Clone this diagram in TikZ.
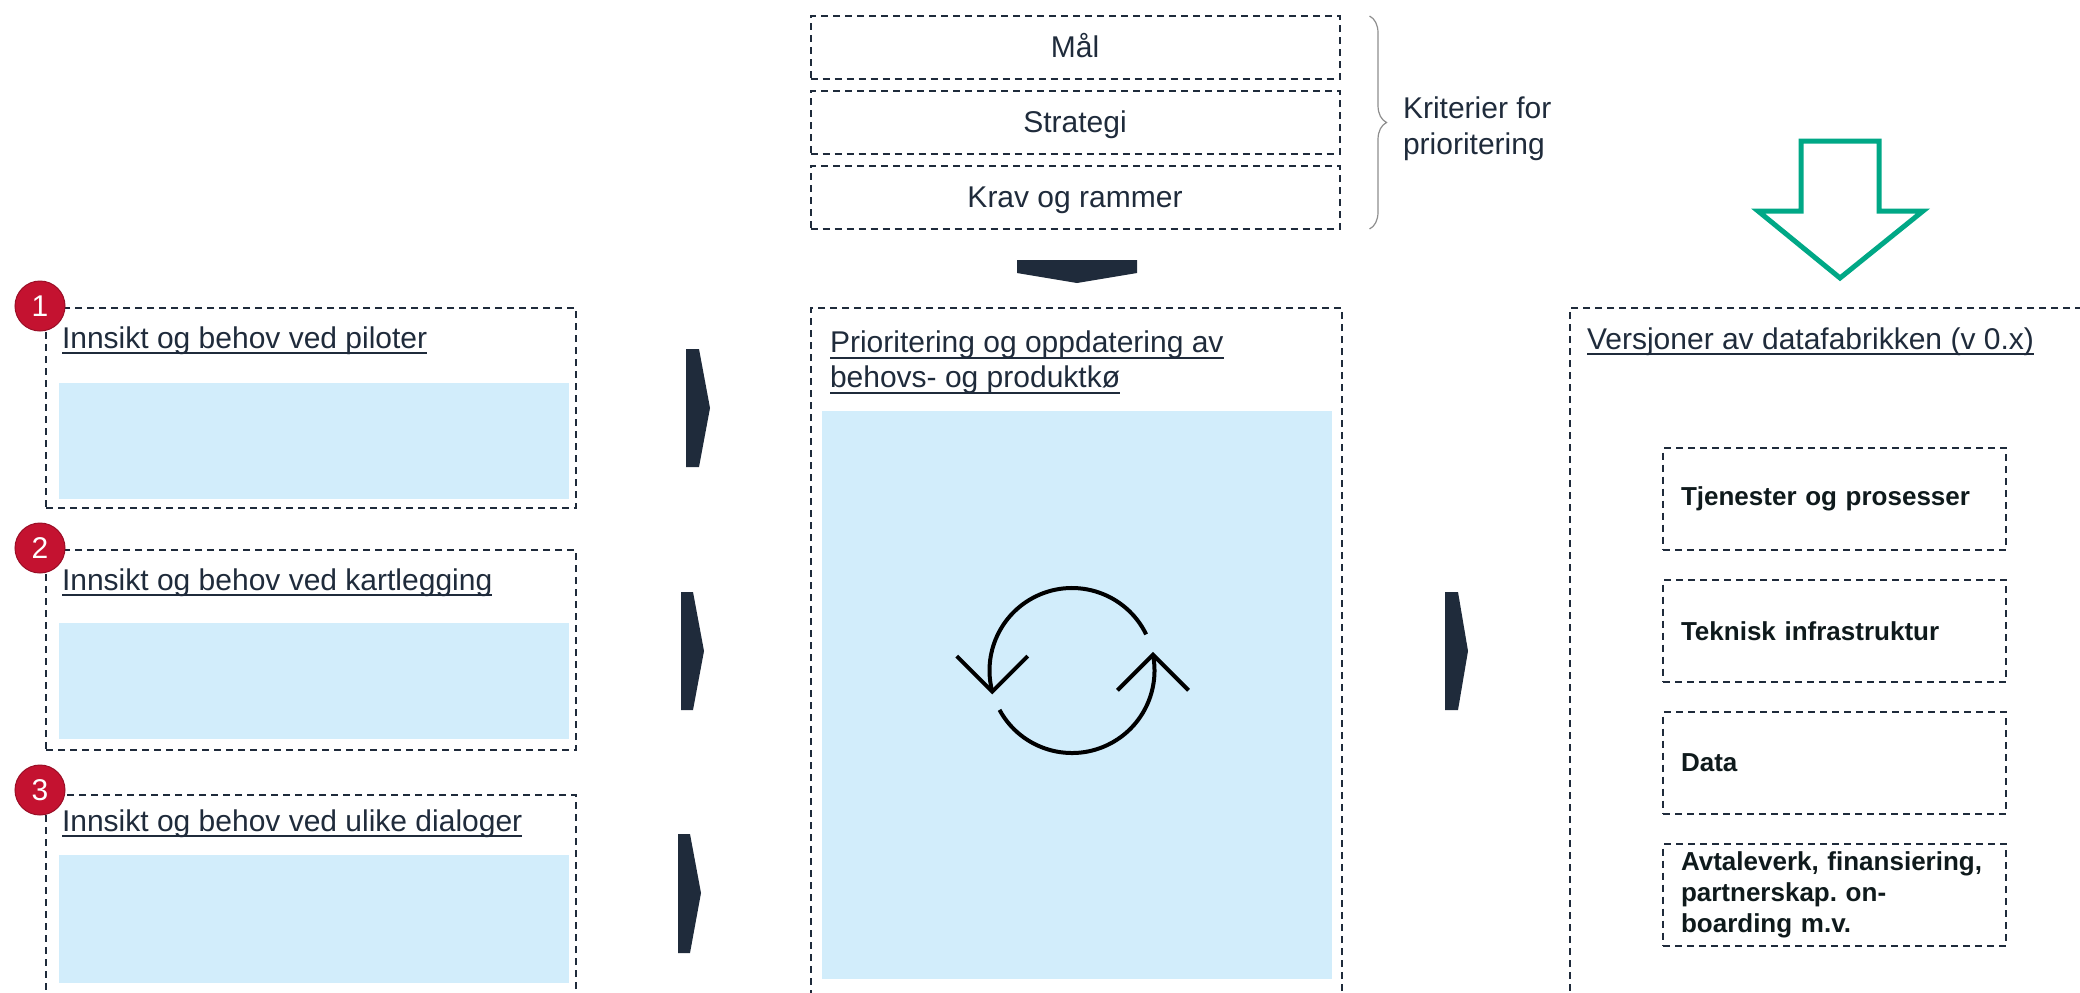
\documentclass[tikz,border=0pt]{standalone}
\usepackage{fontspec}
\setmainfont{Liberation Sans}
\usetikzlibrary{positioning, decorations.pathreplacing}
\definecolor{ink}{HTML}{1F2B3B}
\definecolor{boldink}{HTML}{0F1A1C}
\definecolor{paleblue}{HTML}{D2EDFB}
\definecolor{badgered}{HTML}{C41230}
\definecolor{badgerim}{HTML}{9A0E26}
\definecolor{arrowgreen}{HTML}{00A886}
\definecolor{bracegrey}{HTML}{8E8E8E}
\frenchspacing
\newcommand{\ulin}[1]{\setbox0\hbox{#1}\rlap{\rule[-3pt]{\wd0}{1pt}}\box0}
\tikzset{
	every node/.append style={
		inner sep=0pt,
		outer sep=0pt,
	},
	dashline/.style={
		draw=ink,
		line width=1pt,
		dash pattern=on 3.5pt off 2.5pt,
	},
	panel/.style={
		dashline,
		anchor=north west,
		minimum width=265pt,
		minimum height=100pt,
	},
	fillarea/.style={
		fill=paleblue,
		anchor=north west,
		minimum width=255pt,
	},
	heading/.style={
		text=ink,
		font=\fontsize{15pt}{17.5pt}\selectfont,
	},
	crit/.style={
		dashline,
		heading,
		minimum width=264.5pt,
		minimum height=31.5pt,
		text height=12pt,
		text depth=2pt,
	},
	badge/.style={
		circle,
		fill=badgered,
		draw=badgerim,
		line width=0.5pt,
		minimum size=25pt,
		text=white,
		font=\fontsize{15pt}{18pt}\selectfont,
	},
	partbox/.style={
		dashline,
		text width=153.5pt,
		inner xsep=9pt,
		minimum height=50.75pt,
		align=left,
		text=boldink,
		font=\bfseries\fontsize{13pt}{15.5pt}\selectfont,
	},
	chevron/.style={fill=ink},
	kbrace/.style={
		draw=bracegrey,
		line width=0.6pt,
		decorate,
		decoration={brace, amplitude=8.5pt},
	},
	bigarrow/.style={draw=arrowgreen, line width=2.5pt, miter limit=10},
	loopline/.style={draw=black, line width=2pt},
}

\begin{document}
\begin{tikzpicture}[x=0.5pt, y=-0.5pt]
\useasboundingbox (0,0) rectangle (2080,992);
\clip (0,0) rectangle (2080,992);

% criteria
\node[crit] (maal) at (1075,47.5) {Mål};
\node[crit, below=6pt of maal] (strat) {Strategi};
\node[crit, below=6pt of strat] (krav) {Krav og rammer};
\draw[kbrace] ([xshift=15pt]maal.north east) -- ([xshift=15pt]krav.south east);
\node[heading, anchor=north west, align=left, font=\fontsize{15pt}{18pt}\selectfont] (kriterier) at (1403,97)
	{Kriterier for\\prioritering};
\fill[chevron] (1017,260) -- (1137,260) -- (1137,273) -- (1077,283) -- (1017,273) -- cycle;

% input panels
\node[panel] (pilot) at (46,308) {};
\node[fillarea, minimum height=58pt] (pilotfill) at (59,383) {};
\node[heading, anchor=base west] (pilothead) at (62,348) {\ulin{Innsikt og behov ved piloter}};
\node[badge] (b1) at (40,306) {1};

\node[panel] (kart) at (46,550) {};
\node[fillarea, minimum height=58pt] (kartfill) at (59,623) {};
\node[heading, anchor=base west] (karthead) at (62,590) {\ulin{Innsikt og behov ved kartlegging}};
\node[badge] (b2) at (40,548) {2};

\node[panel, minimum height=150pt] (dialog) at (46,795) {};
\node[fillarea, minimum height=64pt] (dialogfill) at (59,855) {};
\node[heading, anchor=base west] (dialoghead) at (62,831) {\ulin{Innsikt og behov ved ulike dialoger}};
\node[badge] (b3) at (40,790) {3};

\foreach \xa/\xb/\xc/\ya/\yb/\yc in {686/699/710/349/408/467, 681/693/704/592/651/710,
		678/690/701/834/893/953, 1445/1458/1468/592/651/710}
	\fill[chevron] (\xa,\ya) -- (\xb,\ya) -- (\xc,\yb) -- (\xb,\yc) -- (\xa,\yc) -- cycle;

% prioritering
\node[panel, minimum width=265.5pt, minimum height=400pt] (prio) at (811,308) {};
\node[fillarea, minimum height=284pt] (priofill) at (822,411) {};
\node[heading, anchor=north west, align=left] (priohead) at (830,331)
	{\ulin{Prioritering og oppdatering av}\\\ulin{behovs- og produktkø}};

\coordinate (loop) at (1072,670.5);
\draw[loopline] ([shift={(26:41.25pt)}]loop) arc (26:194.8:41.25pt) coordinate (tipl);
\draw[loopline] (tipl) ++(-35.5,-35.5) -- (tipl) -- ++(35.5,-35.5);
\draw[loopline] ([shift={(208.5:41.25pt)}]loop) arc (208.5:371:41.25pt) coordinate (tipr);
\draw[loopline] (tipr) ++(-35.5,35.5) -- (tipr) -- ++(35.5,35.5);

% versjoner
\draw[bigarrow] (1801,141) -- (1879,141) -- (1879,211) -- (1923,211) -- (1840,278)
	-- (1758,211) -- (1801,211) -- cycle;
\node[panel, minimum width=300pt, minimum height=400pt] (versjon) at (1570,308) {};
\node[heading, anchor=base west] (versjonhead) at (1587,349) {\ulin{Versjoner av datafabrikken (v 0.x)}};

\node[partbox, anchor=north west] (tjen) at (1663,448) {Tjenester og prosesser};
\node[partbox, below=15.25pt of tjen] (tek) {Teknisk infrastruktur};
\node[partbox, below=15.25pt of tek] (data) {Data};
\node[partbox, below=15.25pt of data] (avtale) {Avtaleverk, finansiering,\\partnerskap. on-\\boarding m.v.};
\end{tikzpicture}
\end{document}
